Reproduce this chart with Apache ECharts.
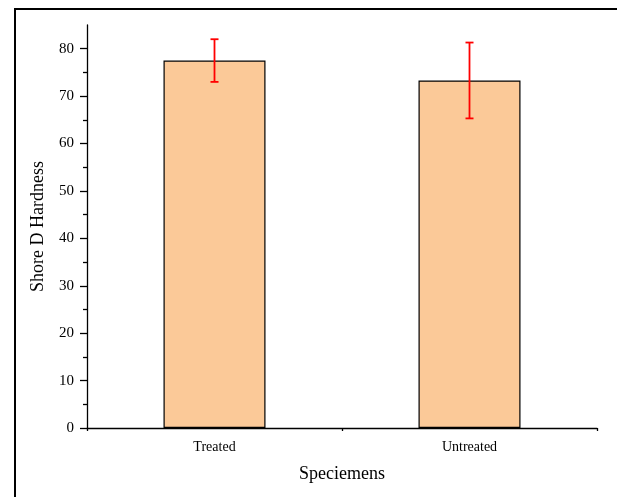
<!DOCTYPE html>
<html>
<head>
<meta charset="utf-8">
<script src="https://cdn.jsdelivr.net/npm/echarts@6/dist/echarts.min.js"></script>
<style>
    html, body { margin: 0; padding: 0; background: #fff; }
    #chart { width: 617px; height: 497px; }
</style>
</head>
<body>
<div id="chart"></div>
<script>
// data
var categories = ['Treated', 'Untreated'];
var hardness = [77.5, 73.3];
var hardnessErr = [4.5, 8.0];
var yTicks = [0, 10, 20, 30, 40, 50, 60, 70, 80];

var font = 'Liberation Serif, Times New Roman, serif';

var chart = echarts.init(document.getElementById('chart'));

var errData = categories.map(function (c, i) {
    return [i, hardness[i] - hardnessErr[i], hardness[i] + hardnessErr[i]];
});

var option = {
    backgroundColor: '#fff',
    animation: false,
    graphic: [{
        type: 'rect',
        shape: { x: 15, y: 9, width: 700, height: 600 },
        style: { fill: null, stroke: '#000', lineWidth: 2 },
        silent: true
    }],
    grid: { left: 87, right: 20, top: 25, bottom: 69 },
    xAxis: [{
        type: 'category',
        data: categories,
        name: 'Speciemens',
        nameLocation: 'middle',
        nameGap: 37,
        nameTextStyle: { fontFamily: font, fontSize: 18, color: '#000' },
        axisLine: { lineStyle: { color: '#000', width: 1.3 } },
        axisTick: { alignWithLabel: true, length: 5, lineStyle: { color: '#000', width: 1.3 } },
        axisLabel: { fontFamily: font, fontSize: 14, color: '#000', margin: 12 },
        splitLine: { show: false }
    }, {
        type: 'value',
        min: 0,
        max: 2,
        interval: 1,
        position: 'bottom',
        axisLine: { show: false },
        axisTick: { show: true, length: 3, lineStyle: { color: '#000', width: 1.3 } },
        axisLabel: { show: false },
        splitLine: { show: false }
    }],
    yAxis: {
        type: 'value',
        min: 0,
        max: 85,
        interval: 10,
        name: 'Shore D Hardness',
        nameLocation: 'middle',
        nameGap: 40,
        nameTextStyle: { fontFamily: font, fontSize: 18, color: '#000' },
        axisLine: { show: true, lineStyle: { color: '#000', width: 1.3 } },
        axisTick: { show: true, length: 7, customValues: yTicks, lineStyle: { color: '#000', width: 1.3 } },
        minorTick: { show: true, splitNumber: 2, length: 4, lineStyle: { color: '#000', width: 1.3 } },
        axisLabel: { fontFamily: font, fontSize: 15, color: '#000', margin: 13, customValues: yTicks },
        splitLine: { show: false }
    },
    series: [{
        type: 'bar',
        data: hardness,
        barWidth: '40%',
        itemStyle: { color: '#FBC998', borderColor: '#000', borderWidth: 1.2 }
    }, {
        type: 'custom',
        data: errData,
        z: 10,
        renderItem: function (params, api) {
            var x = api.value(0);
            var lo = api.coord([x, api.value(1)]);
            var hi = api.coord([x, api.value(2)]);
            var cap = 4;
            var st = { stroke: '#FF0000', lineWidth: 1.8 };
            return {
                type: 'group',
                children: [
                    { type: 'line', shape: { x1: hi[0], y1: hi[1], x2: lo[0], y2: lo[1] }, style: st },
                    { type: 'line', shape: { x1: hi[0] - cap, y1: hi[1], x2: hi[0] + cap, y2: hi[1] }, style: st },
                    { type: 'line', shape: { x1: lo[0] - cap, y1: lo[1], x2: lo[0] + cap, y2: lo[1] }, style: st }
                ]
            };
        }
    }]
};

chart.setOption(option);
</script>
</body>
</html>
